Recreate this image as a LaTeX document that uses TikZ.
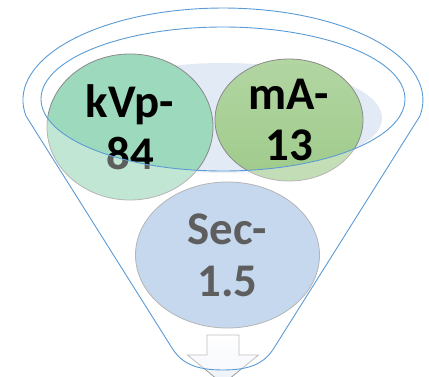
\documentclass[tikz,border=0pt]{standalone}
\usepackage{fontspec}
\newfontfamily\calibri{Carlito}
\usetikzlibrary{shapes.geometric}
\definecolor{funnelblue}{HTML}{5B9BD5}
\definecolor{rimfill}{HTML}{E2EAF5}
\definecolor{kvpgreen}{HTML}{9DD9BC}
\definecolor{mageen}{HTML}{9FCB8B}
\definecolor{secblue}{HTML}{A5C2E5}
\definecolor{circleedge}{HTML}{8A8A8A}
\definecolor{arrowfill}{HTML}{ECF1F9}
\definecolor{arrowedge}{HTML}{9A9A9A}
\tikzset{
  bubble/.style={ellipse, draw=circleedge, line width=0.8bp, inner sep=0pt,
    align=center, text=black,
    font=\calibri\bfseries\fontsize{47}{52}\selectfont},
  funnelline/.style={draw=funnelblue, line width=0.9bp},
}
\begin{document}
\begin{tikzpicture}[x=1bp, y=1bp]
\useasboundingbox (0,0) rectangle (429,377);
\clip (0,0) rectangle (429,377);
% rim background
\fill[rimfill] (223,259) ellipse [x radius=159, y radius=55];
% down arrow
\draw[draw=arrowedge, line width=0.8bp, top color=white, bottom color=arrowfill]
  (207,42) -- (239,42) -- (239,22) -- (258.5,22) -- (223,-7) -- (187.5,22) -- (207,22) -- cycle;
% bubbles
\node[bubble, fill=kvpgreen, minimum width=166bp, minimum height=146bp] (kvp) at (130,250) {kVp-\\84};
\node[bubble, top color=mageen!80!white, bottom color=mageen, minimum width=148bp, minimum height=122bp] (ma) at (289,257) {mA-\\13};
\node[bubble, fill=secblue, minimum width=184bp, minimum height=146bp] (sec) at (227.5,122) {Sec-\\1.5};
% translucent funnel body (funnel minus the rim opening)
\fill[white, fill opacity=0.37, even odd rule]
  (26,261) arc[start angle=190, end angle=-10, x radius=200, y radius=92]
  -- (274,29) .. controls (264.6,14) and (251,7) .. (223,7)
  .. controls (195,7) and (181.4,14) .. (172,29) -- cycle
  (223,278) ellipse [x radius=182, y radius=72];
% funnel outline
\draw[funnelline]
  (26,261) arc[start angle=190, end angle=-10, x radius=200, y radius=92]
  -- (274,29) .. controls (264.6,14) and (251,7) .. (223,7)
  .. controls (195,7) and (181.4,14) .. (172,29) -- cycle;
\draw[funnelline] (223,278) ellipse [x radius=182, y radius=72];
\end{tikzpicture}
\end{document}
